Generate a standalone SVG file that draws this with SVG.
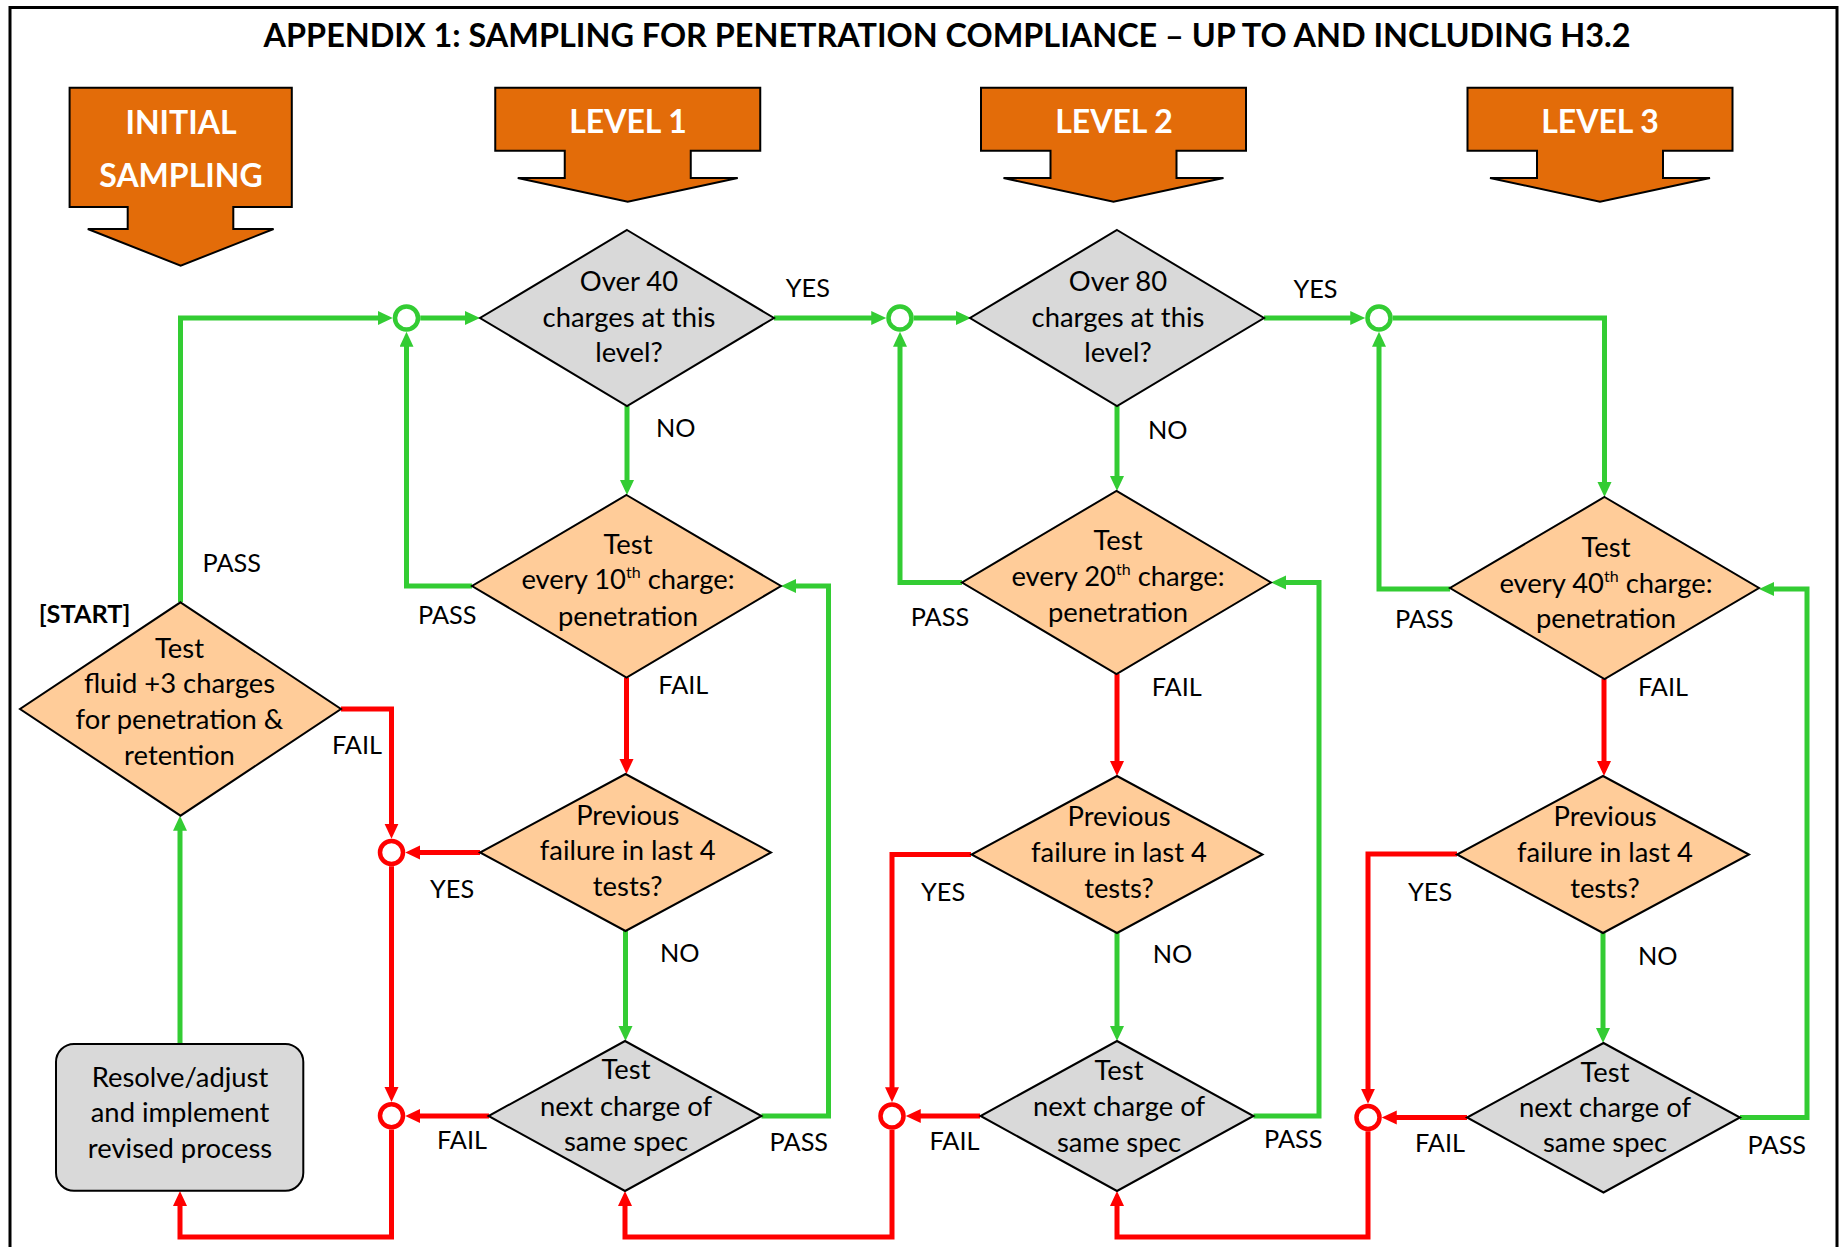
<svg xmlns="http://www.w3.org/2000/svg" width="1841" height="1247" viewBox="0 0 1841 1247">
<style>
text{font-family:Lato,"Liberation Sans",sans-serif;fill:#000}
.title{font-size:32.4px;font-weight:bold;text-anchor:middle}
.hdr{font-size:32px;font-weight:bold;fill:#fff;text-anchor:middle}
.body{font-size:27.4px;text-anchor:middle}
.lbl{font-size:25.3px}
.bold{font-weight:bold}
.sup{font-size:16px}
.dec{stroke:#000;stroke-width:2;stroke-linejoin:miter}
.orange{fill:#FFCC99}
.gray{fill:#D9D9D9}
.blk{fill:#E36C09;stroke:#000;stroke-width:2}
.g{fill:none;stroke:#33CC33;stroke-width:5}
.r{fill:none;stroke:#FF0000;stroke-width:5}
.gc{fill:#fff;stroke:#33CC33;stroke-width:4.5}
.rc{fill:#fff;stroke:#FF0000;stroke-width:4.5}
.ga{marker-end:url(#arrG)}
.ra{marker-end:url(#arrR)}
</style>
<defs>
<marker id="arrG" markerUnits="userSpaceOnUse" markerWidth="16" markerHeight="15" refX="5" refY="7" orient="auto"><path d="M0,0 L15,7 L0,14 z" fill="#33CC33"/></marker>
<marker id="arrR" markerUnits="userSpaceOnUse" markerWidth="16" markerHeight="15" refX="5" refY="7" orient="auto"><path d="M0,0 L15,7 L0,14 z" fill="#FF0000"/></marker>
<path id="lvlArrow" d="M-132.5,87.7 H132.5 V150.7 H63 V178 H110 L0,201.7 L-110,178 H-63 V150.7 H-132.5 Z"/>
</defs>

<path d="M10,1247 V7.5 H1837 V1247" fill="none" stroke="#000" stroke-width="3"/>
<text class="title" x="947" y="46.7">APPENDIX 1: SAMPLING FOR PENETRATION COMPLIANCE – UP TO AND INCLUDING H3.2</text>

<g id="hdr-initial">
<path class="blk" d="M69.6,87.7 H291.8 V207 H233.3 V229 H273.6 L180.7,265.7 L87.8,229 H127.7 V207 H69.6 Z"/>
<text class="hdr" x="181" y="134.3">INITIAL</text>
<text class="hdr" x="181" y="186.7">SAMPLING</text>
</g>
<g id="hdr-level1"><use href="#lvlArrow" x="627.75" class="blk"/><text class="hdr" x="628" y="133.3">LEVEL 1</text></g>
<g id="hdr-level2"><use href="#lvlArrow" x="1113.5" class="blk"/><text class="hdr" x="1114" y="133.3">LEVEL 2</text></g>
<g id="hdr-level3"><use href="#lvlArrow" x="1600" class="blk"/><text class="hdr" x="1600" y="133.3">LEVEL 3</text></g>

<g id="connectors">
<!-- green -->
<path class="g ga" d="M180.5,602 V318 H382.75"/>
<path class="g ga" d="M420.25,318 H470"/>
<path class="g ga" d="M774,318 H876.25"/>
<path class="g ga" d="M913.75,318 H961"/>
<path class="g ga" d="M1264,318 H1355.25"/>
<path class="g ga" d="M1392.75,318 H1604.5 V487"/>
<path class="g ga" d="M627,406 V485"/>
<path class="g ga" d="M1117,406 V481"/>
<path class="g ga" d="M472,586 H406.5 V341.75"/>
<path class="g ga" d="M962,582.5 H900 V341.75"/>
<path class="g ga" d="M1450,589 H1379 V341.75"/>
<path class="g ga" d="M625.5,931 V1031"/>
<path class="g ga" d="M1117,933 V1031"/>
<path class="g ga" d="M1603,933 V1033"/>
<path class="g ga" d="M761.5,1116 H828.5 V586 H791"/>
<path class="g ga" d="M1253.5,1116 H1319 V582.5 H1281"/>
<path class="g ga" d="M1740,1117.5 H1807 V589 H1769"/>
<path class="g ga" d="M180,1044 V825.7"/>
<!-- red -->
<path class="r ra" d="M341,709 H391.5 V828.75"/>
<path class="r ra" d="M626.5,677.5 V764"/>
<path class="r ra" d="M1117,674 V766"/>
<path class="r ra" d="M1604,679 V766"/>
<path class="r ra" d="M480,852.5 H415.25"/>
<path class="r ra" d="M391.5,866.25 V1092"/>
<path class="r ra" d="M489,1116 H415.25"/>
<path class="r ra" d="M391.5,1129.5 V1237 H180 V1201"/>
<path class="r ra" d="M971,854.5 H892 V1092.25"/>
<path class="r ra" d="M980,1116 H915.75"/>
<path class="r ra" d="M892,1129.75 V1237 H625 V1201"/>
<path class="r ra" d="M1457,854 H1368 V1093.75"/>
<path class="r ra" d="M1467,1117.5 H1391.75"/>
<path class="r ra" d="M1368,1131.25 V1237 H1117 V1201"/>
<!-- junction circles -->
<circle class="gc" cx="406.5" cy="318" r="11.5"/>
<circle class="gc" cx="900" cy="318" r="11.5"/>
<circle class="gc" cx="1379" cy="318" r="11.5"/>
<circle class="rc" cx="391.5" cy="852.5" r="11.5"/>
<circle class="rc" cx="391.5" cy="1115.75" r="11.5"/>
<circle class="rc" cx="892" cy="1116" r="11.5"/>
<circle class="rc" cx="1368" cy="1117.5" r="11.5"/>
<!-- labels -->
<text class="lbl" x="785.8" y="297">YES</text>
<text class="lbl" x="1293.4" y="298">YES</text>
<text class="lbl" x="656" y="437">NO</text>
<text class="lbl" x="1148" y="439">NO</text>
<text class="lbl" x="202.5" y="572.3">PASS</text>
<text class="lbl" x="418" y="623.6">PASS</text>
<text class="lbl" x="910.7" y="625.7">PASS</text>
<text class="lbl" x="1395" y="628">PASS</text>
<text class="lbl" x="332" y="754.3">FAIL</text>
<text class="lbl" x="658.3" y="693.6">FAIL</text>
<text class="lbl" x="1151.7" y="696">FAIL</text>
<text class="lbl" x="1638" y="696">FAIL</text>
<text class="lbl" x="430" y="898">YES</text>
<text class="lbl" x="921" y="900.7">YES</text>
<text class="lbl" x="1408" y="901">YES</text>
<text class="lbl" x="660" y="961.7">NO</text>
<text class="lbl" x="1152.7" y="963">NO</text>
<text class="lbl" x="1638" y="965">NO</text>
<text class="lbl" x="437" y="1149">FAIL</text>
<text class="lbl" x="929.5" y="1150">FAIL</text>
<text class="lbl" x="1415" y="1152">FAIL</text>
<text class="lbl" x="769.6" y="1150.7">PASS</text>
<text class="lbl" x="1264" y="1148">PASS</text>
<text class="lbl" x="1747.6" y="1154">PASS</text>
</g>

<g id="start-test">
<path class="dec orange" d="M180.5,602.3 L341,709 L180.5,815.7 L20,709 Z"/>
<text class="lbl bold" x="38.8" y="622.7">[START]</text>
<text class="body" x="179.5" y="657.7">Test</text>
<text class="body" x="179.5" y="693.3">fluid +3 charges</text>
<text class="body" x="179.5" y="729.3">for penetration &amp;</text>
<text class="body" x="179.5" y="765">retention</text>
</g>
<g id="resolve">
<rect class="dec gray" x="56" y="1044" width="247.3" height="146.7" rx="18" ry="18"/>
<text class="body" x="180" y="1086.7">Resolve/adjust</text>
<text class="body" x="180" y="1122">and implement</text>
<text class="body" x="180" y="1158">revised process</text>
</g>

<g id="l1-over40">
<path class="dec gray" d="M627,230 L774,318 L627,406 L480,318 Z"/>
<text class="body" x="629" y="291">Over 40</text>
<text class="body" x="629" y="326.7">charges at this</text>
<text class="body" x="629" y="362">level?</text>
</g>
<g id="l1-test">
<path class="dec orange" d="M626.5,495 L781,586 L626.5,677.5 L472,586 Z"/>
<text class="body" x="628" y="554">Test</text>
<text class="body" x="628" y="589">every 10<tspan class="sup" dy="-11">th</tspan><tspan dy="11"> charge:</tspan></text>
<text class="body" x="628" y="625.7">penetration</text>
</g>
<g id="l1-prev">
<path class="dec orange" d="M625.5,774 L771,852.5 L625.5,931 L480,852.5 Z"/>
<text class="body" x="627.7" y="824.6">Previous</text>
<text class="body" x="627.7" y="860">failure in last 4</text>
<text class="body" x="627.7" y="896">tests?</text>
</g>
<g id="l1-next">
<path class="dec gray" d="M625,1041 L761.5,1116 L625,1191 L488.5,1116 Z"/>
<text class="body" x="626" y="1079">Test</text>
<text class="body" x="626" y="1115.7">next charge of</text>
<text class="body" x="626" y="1150.7">same spec</text>
</g>

<g id="l2-over80">
<path class="dec gray" d="M1117,230 L1264,318 L1117,406 L970,318 Z"/>
<text class="body" x="1118" y="291">Over 80</text>
<text class="body" x="1118" y="326.7">charges at this</text>
<text class="body" x="1118" y="362">level?</text>
</g>
<g id="l2-test">
<path class="dec orange" d="M1116.5,490.8 L1271,582.5 L1116.5,674 L962,582.5 Z"/>
<text class="body" x="1118" y="549.6">Test</text>
<text class="body" x="1118" y="586">every 20<tspan class="sup" dy="-11">th</tspan><tspan dy="11"> charge:</tspan></text>
<text class="body" x="1118" y="622">penetration</text>
</g>
<g id="l2-prev">
<path class="dec orange" d="M1117,776 L1262.5,854.5 L1117,933 L971.5,854.5 Z"/>
<text class="body" x="1119" y="826.4">Previous</text>
<text class="body" x="1119" y="862">failure in last 4</text>
<text class="body" x="1119" y="898">tests?</text>
</g>
<g id="l2-next">
<path class="dec gray" d="M1117,1041 L1253.5,1116 L1117,1191 L980.5,1116 Z"/>
<text class="body" x="1119" y="1080">Test</text>
<text class="body" x="1119" y="1116">next charge of</text>
<text class="body" x="1119" y="1151.7">same spec</text>
</g>

<g id="l3-test">
<path class="dec orange" d="M1604.5,497 L1759,588 L1604.5,679 L1450,588 Z"/>
<text class="body" x="1606" y="556.8">Test</text>
<text class="body" x="1606" y="592.5">every 40<tspan class="sup" dy="-11">th</tspan><tspan dy="11"> charge:</tspan></text>
<text class="body" x="1606" y="628.2">penetration</text>
</g>
<g id="l3-prev">
<path class="dec orange" d="M1603,776 L1749,854.5 L1603,933 L1457,854.5 Z"/>
<text class="body" x="1605" y="826.4">Previous</text>
<text class="body" x="1605" y="862">failure in last 4</text>
<text class="body" x="1605" y="898">tests?</text>
</g>
<g id="l3-next">
<path class="dec gray" d="M1603.5,1043 L1740,1117.5 L1603.5,1192.5 L1467,1117.5 Z"/>
<text class="body" x="1605" y="1081.7">Test</text>
<text class="body" x="1605" y="1116.7">next charge of</text>
<text class="body" x="1605" y="1151.7">same spec</text>
</g>
</svg>
